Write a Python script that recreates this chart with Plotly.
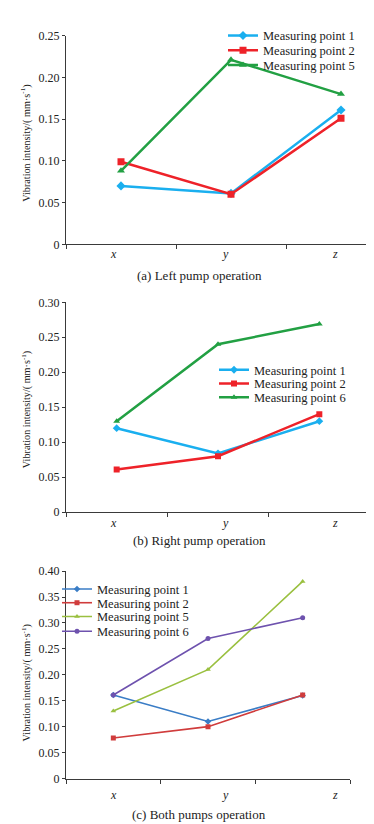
import plotly.graph_objects as go

W, H = 374, 824
FONT = "Liberation Serif"

categories = ["x", "y", "z"]
cat_labels = ["<i>x</i>", "<i>y</i>", "<i>z</i>"]

# Panel (a) Left pump operation
a_names = ["Measuring point 1", "Measuring point 2", "Measuring point 5"]
a_mp1 = [0.070, 0.061, 0.161]
a_mp2 = [0.099, 0.060, 0.151]
a_mp5 = [0.088, 0.221, 0.180]
a_ticks = [0, 0.05, 0.10, 0.15, 0.20, 0.25]
a_ticktext = ["0", "0.05", "0.10", "0.15", "0.20", "0.25"]

# Panel (b) Right pump operation
b_names = ["Measuring point 1", "Measuring point 2", "Measuring point 6"]
b_mp1 = [0.120, 0.084, 0.130]
b_mp2 = [0.061, 0.080, 0.140]
b_mp6 = [0.130, 0.240, 0.269]
b_ticks = [0, 0.05, 0.10, 0.15, 0.20, 0.25, 0.30]
b_ticktext = ["0", "0.05", "0.10", "0.15", "0.20", "0.25", "0.30"]

# Panel (c) Both pumps operation
c_names = ["Measuring point 1", "Measuring point 2", "Measuring point 5", "Measuring point 6"]
c_mp1 = [0.161, 0.110, 0.160]
c_mp2 = [0.078, 0.100, 0.161]
c_mp5 = [0.130, 0.210, 0.380]
c_mp6 = [0.161, 0.270, 0.310]
c_ticks = [0, 0.05, 0.10, 0.15, 0.20, 0.25, 0.30, 0.35, 0.40]
c_ticktext = ["0", "0.05", "0.10", "0.15", "0.20", "0.25", "0.30", "0.35", "0.40"]

captions = ["(a) Left pump operation", "(b) Right pump operation", "(c) Both pumps operation"]
ytitle = "Vibration intensity/( mm·s<sup>-1</sup>)"

def px_x(p):
    return p / W

def px_y(p):
    return (H - p) / H

fig = go.Figure()
legend_layout = {}
leg_font = dict(family=FONT, size=12.5, color="#222")

counter = [0]

def add(x_ax, y_ax, name, vals, color, symbol, lw, ms, leg_x, leg_row):
    counter[0] += 1
    lid = "legend" if counter[0] == 1 else "legend%d" % counter[0]
    fig.add_trace(go.Scatter(
        x=categories, y=vals, name=name, mode="lines+markers",
        xaxis=x_ax, yaxis=y_ax, legend=lid,
        line=dict(color=color, width=lw),
        marker=dict(color=color, symbol=symbol, size=ms),
    ))
    legend_layout[lid] = dict(x=px_x(leg_x), y=px_y(leg_row - 10), xanchor="left",
                              yanchor="top", bgcolor="rgba(0,0,0,0)", itemwidth=30,
                              font=leg_font)

add("x", "y", a_names[0], a_mp1, "#1AAFEF", "diamond", 2.5, 7, 215, 16)
add("x", "y", a_names[1], a_mp2, "#EE2229", "square", 2.5, 7, 215, 31)
add("x", "y", a_names[2], a_mp5, "#22A043", "triangle-up", 2.5, 7, 215, 46)

add("x2", "y2", b_names[0], b_mp1, "#1AAFEF", "diamond", 2.5, 6, 206, 356)
add("x2", "y2", b_names[1], b_mp2, "#EE2229", "square", 2.5, 6, 206, 370)
add("x2", "y2", b_names[2], b_mp6, "#22A043", "triangle-up", 2.5, 6, 206, 384)

add("x3", "y3", c_names[0], c_mp1, "#3A7DC6", "diamond", 1.6, 5, 49, 579)
add("x3", "y3", c_names[1], c_mp2, "#D03C3C", "square", 1.6, 5, 49, 593)
add("x3", "y3", c_names[2], c_mp5, "#9AC040", "triangle-up", 1.6, 5, 49, 607)
add("x3", "y3", c_names[3], c_mp6, "#6E52AE", "circle", 1.6, 5, 49, 622)

axis_col = "#3a3a3a"
tickfont = dict(family=FONT, size=12, color="#222")

def xaxis(domain, rng, anchor):
    return dict(domain=domain, range=rng, anchor=anchor, type="category",
                categoryorder="array", categoryarray=categories,
                tickson="boundaries", ticks="outside", ticklen=4, tickcolor=axis_col,
                showline=True, linecolor=axis_col, linewidth=1,
                showgrid=False, zeroline=False, showticklabels=False, fixedrange=True)

def yaxis(domain, rng, anchor, tv, tt):
    return dict(domain=domain, range=rng, anchor=anchor,
                tickmode="array", tickvals=tv, ticktext=tt,
                ticks="outside", ticklen=3, tickcolor=axis_col,
                showline=True, linecolor=axis_col, linewidth=1,
                showgrid=False, zeroline=False, tickfont=tickfont, fixedrange=True)

a_dom_y = [px_y(233.3), px_y(21)]
b_dom_y = [px_y(505.7), px_y(292.3)]
c_dom_y = [px_y(776.7), px_y(565.7)]

fig.update_layout(
    width=W, height=H, margin=dict(l=0, r=0, t=0, b=0),
    paper_bgcolor="white", plot_bgcolor="white",
    font=dict(family=FONT, size=12, color="#222"),
    xaxis=xaxis([px_x(58), 1.0], [-0.5, -0.5 + 316 / 110], "y"),
    yaxis=yaxis(a_dom_y, [0, 0.25], "x", a_ticks, a_ticktext),
    xaxis2=xaxis([px_x(58), px_x(362)], [-0.5, 2.5], "y2"),
    yaxis2=yaxis(b_dom_y, [0, 0.30], "x2", b_ticks, b_ticktext),
    xaxis3=xaxis([px_x(58), px_x(342)], [-0.5, 2.5], "y3"),
    yaxis3=yaxis(c_dom_y, [0, 0.40], "x3", c_ticks, c_ticktext),
    showlegend=True,
    **legend_layout,
)

annotations = []
# y-axis titles
for yc in [131, 402, 680]:
    annotations.append(dict(text=ytitle, xref="paper", yref="paper",
                            x=px_x(18), y=px_y(yc), textangle=-90, showarrow=False,
                            xanchor="center", yanchor="middle",
                            font=dict(family=FONT, size=10.2, color="#222")))
# captions
for cap, yc in zip(captions, [265, 535, 813]):
    annotations.append(dict(text=cap, xref="paper", yref="paper",
                            x=px_x(191), y=px_y(yc), showarrow=False,
                            xanchor="center", yanchor="middle",
                            font=dict(family=FONT, size=13, color="#222")))
# x category labels (same pixel positions in all three panels, as in the original)
for yc in [243, 517, 793]:
    for lab, xc in zip(cat_labels, [105, 217, 327]):
        annotations.append(dict(text=lab, xref="paper", yref="paper", x=px_x(xc),
                                y=px_y(yc), showarrow=False, xanchor="center",
                                yanchor="middle", font=dict(family=FONT, size=12, color="#222")))
fig.update_layout(annotations=annotations)

fig.write_html("out.html")
